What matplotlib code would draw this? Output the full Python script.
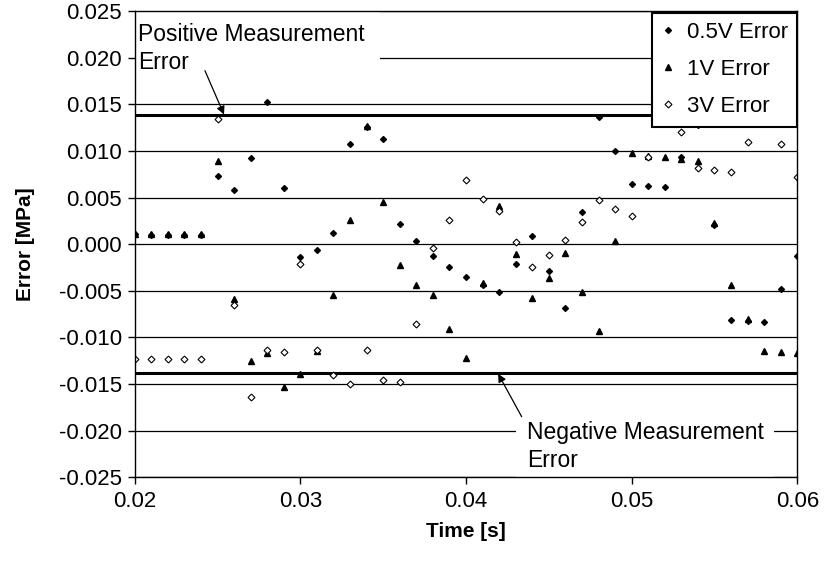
import matplotlib
matplotlib.use("Agg")
import matplotlib.pyplot as plt
import numpy as np

plt.rcParams['font.family'] = ['Liberation Sans', 'DejaVu Sans']

time_s = [0.020, 0.021, 0.022, 0.023, 0.024, 0.025, 0.026, 0.027, 0.028, 0.029,
          0.030, 0.031, 0.032, 0.033, 0.034, 0.035, 0.036, 0.037, 0.038, 0.039,
          0.040, 0.041, 0.042, 0.043, 0.044, 0.045, 0.046, 0.047, 0.048, 0.049,
          0.050, 0.051, 0.052, 0.053, 0.054, 0.055, 0.056, 0.057, 0.058, 0.059,
          0.060]

err_05v = [0.0011, 0.0010, 0.0010, 0.0010, 0.0010, 0.0073, 0.0058, 0.0092, 0.0152, 0.0060,
           -0.0014, -0.0006, 0.0012, 0.0107, 0.0126, 0.0113, 0.0022, 0.0003, -0.0013, -0.0025,
           -0.0035, -0.0044, -0.0051, -0.0021, 0.0009, -0.0029, -0.0068, 0.0034, 0.0136, 0.0100,
           0.0064, 0.0062, 0.0061, 0.0093, 0.0128, 0.0021, -0.0081, -0.0082, -0.0083, -0.0048,
           -0.0013]

err_1v = [0.0011, 0.0011, 0.0011, 0.0011, 0.0011, 0.0089, -0.0059, -0.0125, -0.0117, -0.0153,
          -0.0139, -0.0115, -0.0055, 0.0026, 0.0127, 0.0045, -0.0022, -0.0044, -0.0055, -0.0091,
          -0.0122, -0.0042, 0.0041, -0.0011, -0.0058, -0.0036, -0.0009, -0.0051, -0.0093, 0.0003,
          0.0098, 0.0094, 0.0093, 0.0091, 0.0089, 0.0023, -0.0044, -0.0080, -0.0115, -0.0116,
          -0.0117]

err_3v = [-0.0123, -0.0123, -0.0123, -0.0123, -0.0123, 0.0134, -0.0065, -0.0164, -0.0114, -0.0116,
          -0.0021, -0.0113, -0.0140, -0.0150, -0.0113, -0.0146, -0.0148, -0.0086, -0.0004, 0.0026,
          0.0069, 0.0048, 0.0036, 0.0002, -0.0024, -0.0012, 0.0004, 0.0024, 0.0047, 0.0038,
          0.0030, 0.0093, 0.0145, 0.0120, 0.0082, 0.0079, 0.0077, 0.0110, 0.0140, 0.0107,
          0.0072]

meas_limit = 0.0138
series_labels = ["0.5V Error", "1V Error", "3V Error"]
x_ticks = [0.02, 0.03, 0.04, 0.05, 0.06]
y_ticks = [-0.025, -0.020, -0.015, -0.010, -0.005, 0.000, 0.005, 0.010, 0.015, 0.020, 0.025]

fig = plt.figure(figsize=(8.24, 5.71), dpi=100)
ax = fig.add_axes([0.1635, 0.1641, 0.8041, 0.8166])

ax.set_xlim(0.02, 0.06)
ax.set_ylim(-0.025, 0.025)

for yv in y_ticks:
    ax.axhline(yv, color='black', lw=0.9, zorder=1)
ax.axhline(meas_limit, color='black', lw=2.2, zorder=2)
ax.axhline(-meas_limit, color='black', lw=2.2, zorder=2)

ax.plot(time_s, err_05v, ls='none', marker='D', ms=3.0, mfc='black', mec='black',
        label=series_labels[0], zorder=3)
ax.plot(time_s, err_1v, ls='none', marker='^', ms=5.0, mfc='black', mec='black',
        label=series_labels[1], zorder=3)
ax.plot(time_s, err_3v, ls='none', marker='D', ms=3.5, mfc='white', mec='black', mew=0.8,
        label=series_labels[2], zorder=3)

ax.set_xticks(x_ticks)
ax.set_xticklabels([f"{v:.2f}" for v in x_ticks])
ax.set_yticks(y_ticks)
ax.set_yticklabels([f"{v:.3f}" for v in y_ticks])
ax.tick_params(axis='both', direction='out', length=5, width=1, labelsize=16, colors='black')
ax.tick_params(axis='x', pad=5)
ax.tick_params(axis='y', pad=4)

for sp in ax.spines.values():
    sp.set_color('black')
    sp.set_linewidth(1.0)
    sp.set_zorder(6)

ax.set_xlabel("Time [s]", fontsize=15, fontweight='bold', labelpad=7)
ax.set_ylabel("Error [MPa]", fontsize=15, fontweight='bold', labelpad=17)

ax.text(0.0202, 0.0237, "Positive Measurement\nError", fontsize=16.5, ha='left', va='top',
        linespacing=1.25, zorder=4, clip_on=True,
        bbox=dict(boxstyle='square,pad=0.65', fc='white', ec='none'))
ax.annotate("", xy=(0.02539, 0.0139), xytext=(0.02424, 0.0186),
            arrowprops=dict(arrowstyle='-|>', color='black', lw=0.9,
                            mutation_scale=12, shrinkA=0, shrinkB=0), zorder=5)

ax.text(0.04366, -0.0190, "Negative Measurement\nError", fontsize=16.5, ha='left', va='top',
        linespacing=1.25, zorder=4, clip_on=True,
        bbox=dict(boxstyle='square,pad=0.45', fc='white', ec='none'))
ax.annotate("", xy=(0.04194, -0.0139), xytext=(0.04336, -0.0185),
            arrowprops=dict(arrowstyle='-|>', color='black', lw=0.9,
                            mutation_scale=12, shrinkA=0, shrinkB=0), zorder=5)

leg = ax.legend(loc='upper right', bbox_to_anchor=(1.0, 0.996), borderaxespad=0,
                fontsize=16, frameon=True, fancybox=False, framealpha=1,
                edgecolor='black', handlelength=0.6, handletextpad=0.55,
                labelspacing=0.72, borderpad=0.42)
leg.get_frame().set_linewidth(1.5)
leg.set_zorder(7)

fig.savefig("out.png", dpi=100)
